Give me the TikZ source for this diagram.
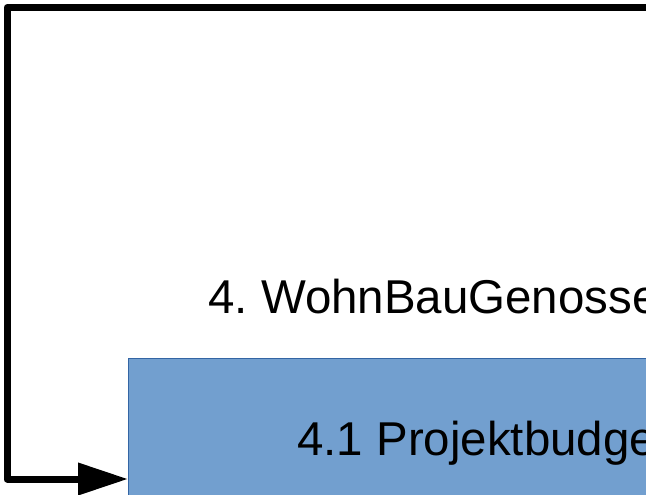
\documentclass[tikz,border=0pt]{standalone}
\usepackage{fontspec}
\setmainfont{Liberation Sans}
\usetikzlibrary{arrows.meta}
\definecolor{boxfill}{HTML}{729FCF}
\definecolor{boxline}{HTML}{3465A4}
\frenchspacing
\begin{document}
\begin{tikzpicture}[x=0.75pt,y=-0.75pt,
  flow/.style={line width=5.25pt,line join=round,line cap=round,
    -{Triangle[length=37.5pt,width=23.25pt,line cap=butt]}},
  lbl/.style={anchor=base west,inner sep=0pt,font=\fontsize{35.6pt}{40pt}\selectfont},
  taskbox/.style={draw=boxline,fill=boxfill,line width=0.75pt,anchor=north west,
    minimum width=540*0.75pt,minimum height=150*0.75pt,inner sep=0pt}]
\useasboundingbox (0,0) rectangle (646,494);
\node[taskbox] (box) at (128,358) {};
\node[lbl] (title) at (208,313) {4. WohnBauGenosse};
\node[lbl] (sub) at (297,455) {4.1 Projektbudge};
\coordinate (start) at (700,7.5);
\coordinate (c1) at (7,7.5);
\coordinate (c2) at (7,479);
\coordinate (in) at (128,479);
\draw[flow] (start) -- (c1) -- (c2) -- (in);
\end{tikzpicture}
\end{document}
